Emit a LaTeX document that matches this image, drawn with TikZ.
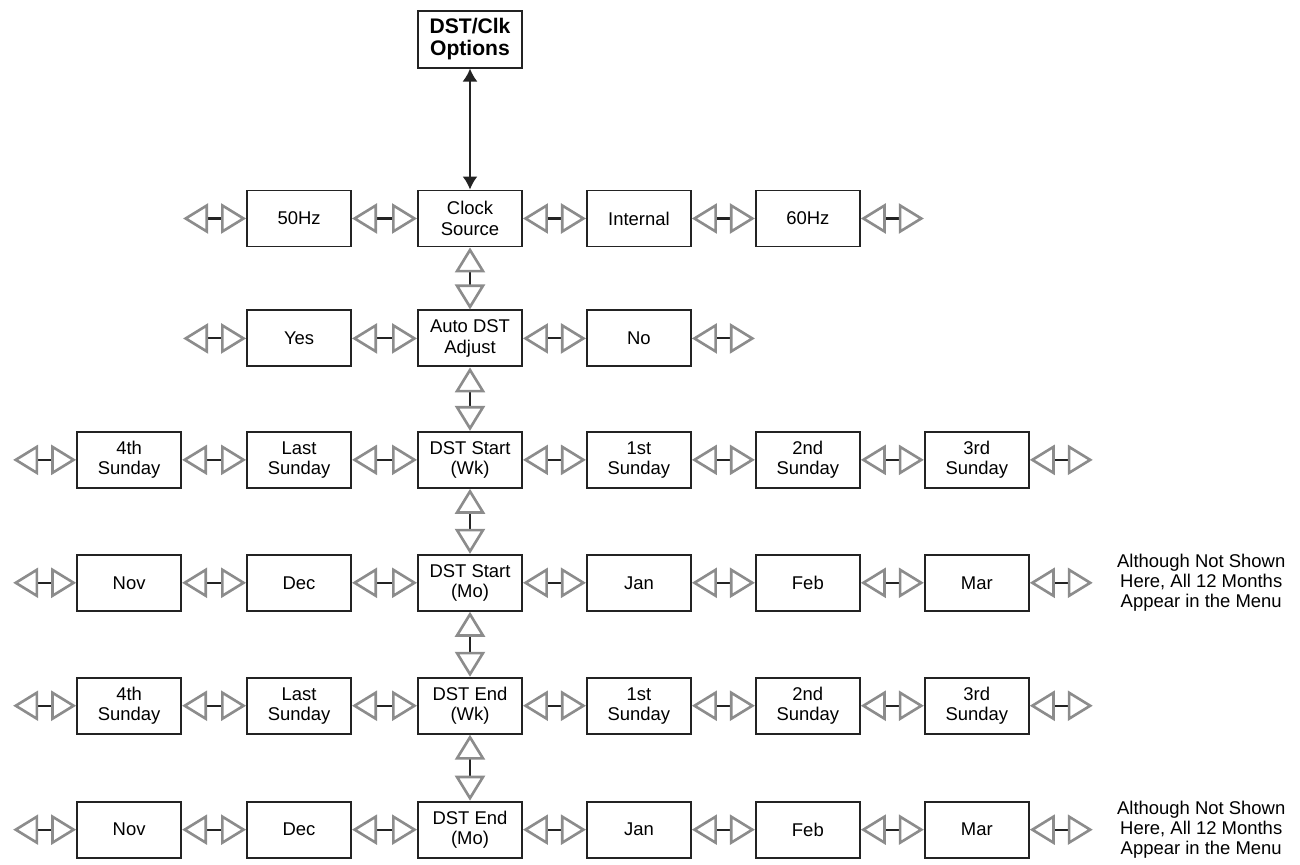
\documentclass[tikz,border=0pt]{standalone}
\usepackage{fontspec}
\setmainfont{Liberation Sans}
\usetikzlibrary{positioning, arrows.meta}
\definecolor{tipgray}{RGB}{140,140,140}
\definecolor{linedark}{RGB}{35,35,35}
\tikzset{gtri/.tip={Triangle[open, length=0.5cm, width=0.6cm, line width=1.5pt, color=tipgray]}}
\tikzset{box/.style={draw=linedark, line width=1.1pt, minimum width=2.08cm, minimum height=1.12cm, inner sep=1pt, align=center, font=\fontsize{10.5}{11.5}\selectfont}}
\tikzset{dbl/.style={draw=linedark, line width=1.2pt, arrows=gtri-gtri}}
\tikzset{note/.style={align=center, inner sep=0pt, font=\fontsize{10.5}{11.5}\selectfont}}
\newcommand{\allmonths}{Although Not Shown\\Here, All 12 Months\\Appear in the Menu}

\begin{document}
\begin{tikzpicture}[node distance=1.3cm and 1.26cm]
            \useasboundingbox (0,0) rectangle (26,-17.3);
            % clock source row
            \node[box] (cs) at (9.4,-4.37) {Clock\\Source};
            \node[box, font=\bfseries\fontsize{12}{12.8}\selectfont, minimum height=1.14cm, above=2.42cm of cs] (opt) {DST/Clk\\Options};
            \node[box, left=1.3cm of cs] (hz50) {50Hz};
            \node[box, right=of cs] (int) {Internal};
            \node[box, right=of int] (hz60) {60Hz};
            \coordinate[left=of hz50] (csl);
            \coordinate[right=of hz60] (csr);
            % auto dst row
            \node[box, below=1.24cm of cs] (ad) {Auto DST\\Adjust};
            \node[box, left=1.3cm of ad] (yes) {Yes};
            \node[box, right=of ad] (no) {No};
            \coordinate[left=of yes] (adl);
            \coordinate[right=of no] (adr);
            % dst start week
            \node[box, below=1.27cm of ad] (swk) {DST Start\\(Wk)};
            \node[box, left=1.3cm of swk] (swkl1) {Last\\Sunday};
            \node[box, left=1.28cm of swkl1] (swkl2) {4th\\Sunday};
            \node[box, right=of swk] (swkr1) {1st\\Sunday};
            \node[box, right=of swkr1] (swkr2) {2nd\\Sunday};
            \node[box, right=of swkr2] (swkr3) {3rd\\Sunday};
            \coordinate[left=of swkl2] (swkl);
            \coordinate[right=of swkr3] (swkr);
            % dst start month
            \node[box, below=of swk] (smo) {DST Start\\(Mo)};
            \node[box, left=1.3cm of smo] (smol1) {Dec};
            \node[box, left=1.28cm of smol1] (smol2) {Nov};
            \node[box, right=of smo] (smor1) {Jan};
            \node[box, right=of smor1] (smor2) {Feb};
            \node[box, right=of smor2] (smor3) {Mar};
            \coordinate[left=of smol2] (smol);
            \coordinate[right=of smor3] (smor);
            \node[note, right=0.48cm of smor] (smonote) {\allmonths};
            % dst end week
            \node[box, below=of smo] (ewk) {DST End\\(Wk)};
            \node[box, left=1.3cm of ewk] (ewkl1) {Last\\Sunday};
            \node[box, left=1.28cm of ewkl1] (ewkl2) {4th\\Sunday};
            \node[box, right=of ewk] (ewkr1) {1st\\Sunday};
            \node[box, right=of ewkr1] (ewkr2) {2nd\\Sunday};
            \node[box, right=of ewkr2] (ewkr3) {3rd\\Sunday};
            \coordinate[left=of ewkl2] (ewkl);
            \coordinate[right=of ewkr3] (ewkr);
            % dst end month
            \node[box, below=1.32cm of ewk] (emo) {DST End\\(Mo)};
            \node[box, left=1.3cm of emo] (emol1) {Dec};
            \node[box, left=1.28cm of emol1] (emol2) {Nov};
            \node[box, right=of emo] (emor1) {Jan};
            \node[box, right=of emor1] (emor2) {Feb};
            \node[box, right=of emor2] (emor3) {Mar};
            \coordinate[left=of emol2] (emol);
            \coordinate[right=of emor3] (emor);
            \node[note, right=0.48cm of emor] (emonote) {\allmonths};
            % connectors
            \draw[draw=linedark, line width=1.1pt, {Latex[length=0.26cm, width=0.3cm]}-{Latex[length=0.26cm, width=0.3cm]}] (opt) -- (cs);
            \draw[dbl] (csl) -- (hz50);
            \draw[dbl] (hz50) -- (cs);
            \draw[dbl] (cs) -- (int);
            \draw[dbl] (int) -- (hz60);
            \draw[dbl] (hz60) -- (csr);
            \draw[dbl] (cs) -- (ad);
            \draw[dbl] (adl) -- (yes);
            \draw[dbl] (yes) -- (ad);
            \draw[dbl] (ad) -- (no);
            \draw[dbl] (no) -- (adr);
            \draw[dbl] (ad) -- (swk);
            \draw[dbl] (swkl) -- (swkl2);
            \draw[dbl] (swkl2) -- (swkl1);
            \draw[dbl] (swkl1) -- (swk);
            \draw[dbl] (swk) -- (swkr1);
            \draw[dbl] (swkr1) -- (swkr2);
            \draw[dbl] (swkr2) -- (swkr3);
            \draw[dbl] (swkr3) -- (swkr);
            \draw[dbl] (swk) -- (smo);
            \draw[dbl] (smol) -- (smol2);
            \draw[dbl] (smol2) -- (smol1);
            \draw[dbl] (smol1) -- (smo);
            \draw[dbl] (smo) -- (smor1);
            \draw[dbl] (smor1) -- (smor2);
            \draw[dbl] (smor2) -- (smor3);
            \draw[dbl] (smor3) -- (smor);
            \draw[dbl] (smo) -- (ewk);
            \draw[dbl] (ewkl) -- (ewkl2);
            \draw[dbl] (ewkl2) -- (ewkl1);
            \draw[dbl] (ewkl1) -- (ewk);
            \draw[dbl] (ewk) -- (ewkr1);
            \draw[dbl] (ewkr1) -- (ewkr2);
            \draw[dbl] (ewkr2) -- (ewkr3);
            \draw[dbl] (ewkr3) -- (ewkr);
            \draw[dbl] (ewk) -- (emo);
            \draw[dbl] (emol) -- (emol2);
            \draw[dbl] (emol2) -- (emol1);
            \draw[dbl] (emol1) -- (emo);
            \draw[dbl] (emo) -- (emor1);
            \draw[dbl] (emor1) -- (emor2);
            \draw[dbl] (emor2) -- (emor3);
            \draw[dbl] (emor3) -- (emor);
        \end{tikzpicture}
\end{document}
